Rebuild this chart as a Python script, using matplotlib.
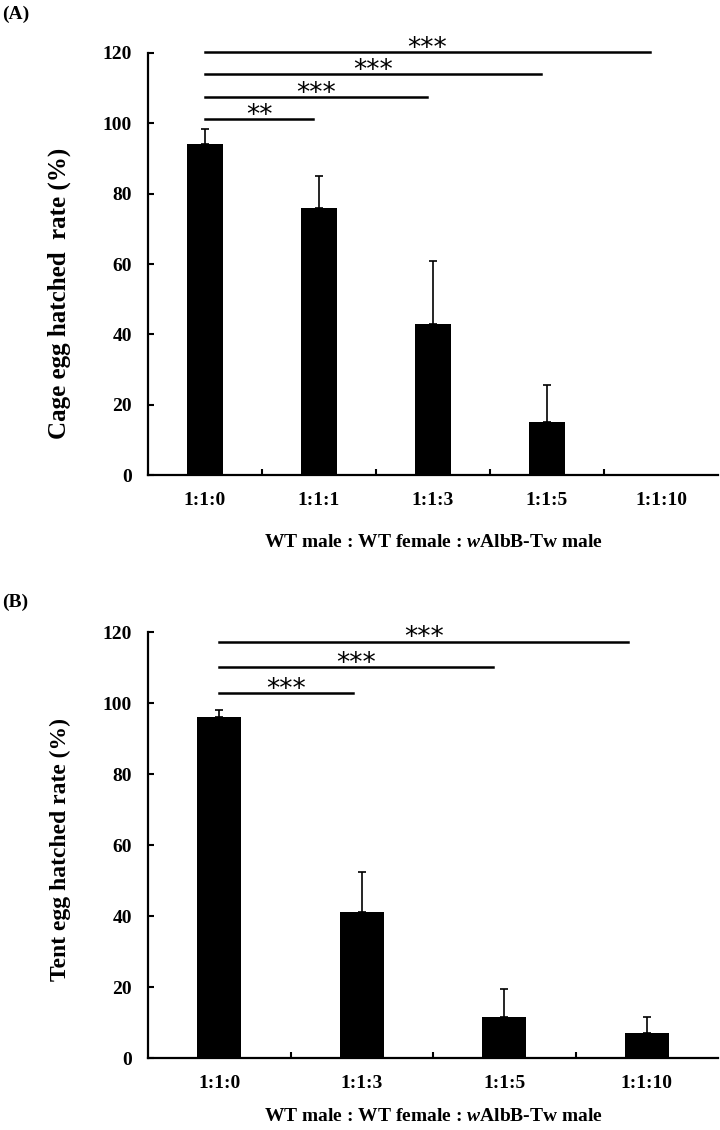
import numpy as np
import matplotlib
matplotlib.use("Agg")
import matplotlib.pyplot as plt

plt.rcParams["font.family"] = ["Liberation Serif", "DejaVu Serif"]
plt.rcParams["font.weight"] = "bold"
plt.rcParams["mathtext.fontset"] = "custom"
plt.rcParams["mathtext.it"] = "Liberation Serif:italic:bold"
plt.rcParams["mathtext.rm"] = "Liberation Serif:bold"

# ---- data -----------------------------------------------------------------
cage_labels = ["1:1:0", "1:1:1", "1:1:3", "1:1:5", "1:1:10"]
cage_mean = [94, 76, 43, 15, 0]
cage_err = [4.5, 9, 18, 10.5, 0]
# (from, to, line height, stars)
cage_sig = [(0, 0.95, 101.3, "**"), (0, 1.95, 107.5, "***"),
            (0, 2.95, 114, "***"), (0, 3.9, 120.2, "***")]

tent_labels = ["1:1:0", "1:1:3", "1:1:5", "1:1:10"]
tent_mean = [96, 41, 11.5, 7]
tent_err = [2, 11.5, 8, 4.5]
tent_sig = [(0, 0.94, 102.9, "***"), (0, 1.92, 110.1, "***"),
            (0, 2.87, 117.3, "***")]

xlab = r"WT male : WT female : $\mathit{w}$AlbB-Tw male"


def panel(ax, labels, mean, err, sig, ylabel, ylab_size, ylab_y, xlab_pad):
    x = np.arange(len(labels))
    ax.bar(x, mean, 0.31, color="black", zorder=2)
    ax.errorbar(x, mean, yerr=[np.zeros(len(err)), err], fmt="none",
                ecolor="black", elinewidth=1.2, capsize=3, capthick=1.2)
    ax.set_xlim(-0.5, len(labels) - 0.5)
    ax.set_ylim(0, 120)
    ax.set_yticks(np.arange(0, 121, 20))
    ax.set_xticks(x)
    ax.set_xticklabels(labels)
    ax.set_xticks(np.arange(0.5, len(labels) - 0.5, 1), minor=True)
    ax.tick_params(axis="x", which="major", length=0, pad=12, labelsize=14)
    ax.tick_params(axis="x", which="minor", direction="in", length=4, width=1.5)
    ax.tick_params(axis="y", direction="in", length=4, width=1.5, pad=11.5,
                   labelsize=14)
    for s in ["top", "right"]:
        ax.spines[s].set_visible(False)
    for s in ["left", "bottom"]:
        ax.spines[s].set_linewidth(1.6)
    ax.set_ylabel(ylabel, fontsize=ylab_size, fontweight="bold")
    ax.yaxis.set_label_coords(-0.135, ylab_y)
    ax.set_xlabel(xlab, fontsize=14, fontweight="bold", labelpad=xlab_pad)
    for a, b, h, stars in sig:
        ax.plot([a, b], [h, h], color="black", lw=1.8, clip_on=False)
        ax.text((a + b) / 2, h - 1.1, stars, ha="center", va="baseline",
                fontsize=19, family="DejaVu Sans", fontweight="normal",
                clip_on=False)


fig = plt.figure(figsize=(7.2, 11.3), dpi=100)
ax1 = fig.add_axes([0.2056, 0.5796, 0.7917, 0.3735])
ax2 = fig.add_axes([0.2056, 0.0637, 0.7917, 0.3770])

panel(ax1, cage_labels, cage_mean, cage_err, cage_sig,
      "Cage egg hatched  rate (%)", 18, 0.43, 18)
panel(ax2, tent_labels, tent_mean, tent_err, tent_sig,
      "Tent egg hatched rate (%)", 17, 0.49, 12)

fig.text(0.003, 0.987, "(A)", fontsize=14, fontweight="bold", va="center")
fig.text(0.003, 0.467, "(B)", fontsize=14, fontweight="bold", va="center")

fig.savefig("out.png", dpi=100)
